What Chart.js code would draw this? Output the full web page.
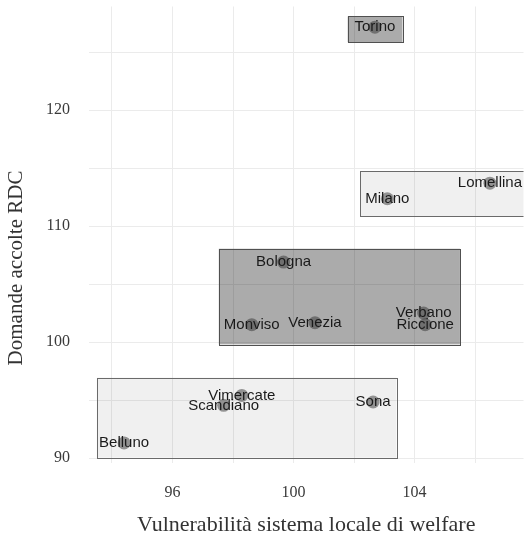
<!DOCTYPE html>
<html>
<head>
<meta charset="utf-8">
<script src="https://cdn.jsdelivr.net/npm/chart.js@4.4.1/dist/chart.umd.min.js"></script>
<style>
  html, body { margin: 0; padding: 0; background: #fff; overflow: hidden; }
  #wrap { width: 530px; height: 540px; }
  canvas { display: block; }
</style>
</head>
<body>
<div id="wrap"><canvas id="myChart"></canvas></div>
<script>
// ambiti territoriali
var names = ["Torino", "Lomellina", "Milano", "Bologna", "Monviso", "Venezia", "Verbano", "Riccione", "Vimercate", "Scandiano", "Belluno", "Sona"];
var vulnerabilita = [102.69, 106.49, 103.1, 99.67, 98.62, 100.71, 104.3, 104.35, 98.29, 97.69, 94.4, 102.63];
var domande = [127.16, 113.7, 112.36, 106.9, 101.5, 101.67, 102.5, 101.5, 95.4, 94.54, 91.3, 94.83];

// riquadri dei gruppi (cluster)
var boxXmin = [101.79, 102.2, 97.53, 93.5];
var boxXmax = [103.6, 108.5, 105.5, 103.4];
var boxYmin = [125.86, 110.86, 99.8, 90.03];
var boxYmax = [128.08, 114.74, 108.05, 96.93];
var boxCluster = ["A", "B", "A", "B"];

// griglia e etichette degli assi
var xGrid = [94, 96, 98, 100, 102, 104, 106];
var xTickLabels = [96, 100, 104];
var yGrid = [90, 95, 100, 105, 110, 115, 120, 125];
var yTickLabels = [90, 100, 110, 120];

var serif = "'Liberation Serif', 'DejaVu Serif', serif";
var sans = "'Liberation Sans', Arial, sans-serif";

var points = names.map(function (n, i) {
    return { x: vulnerabilita[i], y: domande[i] };
});

function noPadding(scale) {
    scale.paddingLeft = 0;
    scale.paddingRight = 0;
    scale.paddingTop = 0;
    scale.paddingBottom = 0;
}

var boxesPlugin = {
    id: "boxes",
    beforeDatasetsDraw: function (chart) {
        var ctx = chart.ctx, a = chart.chartArea;
        var xs = chart.scales.x, ys = chart.scales.y;
        ctx.save();
        ctx.beginPath();
        ctx.rect(a.left, a.top, a.right - a.left, a.bottom - a.top);
        ctx.clip();
        for (var i = 0; i < boxXmin.length; i++) {
            var x0 = xs.getPixelForValue(boxXmin[i]);
            var x1 = xs.getPixelForValue(boxXmax[i]);
            var y0 = ys.getPixelForValue(boxYmax[i]);
            var y1 = ys.getPixelForValue(boxYmin[i]);
            ctx.fillStyle = boxCluster[i] == "A" ? "rgba(0,0,0,0.33)" : "rgba(0,0,0,0.06)";
            ctx.strokeStyle = boxCluster[i] == "A" ? "#505050" : "#6a6a6a";
            ctx.lineWidth = 1;
            ctx.fillRect(x0, y0, x1 - x0, y1 - y0);
            ctx.strokeRect(Math.round(x0) + 0.5, Math.round(y0) + 0.5, Math.round(x1 - x0), Math.round(y1 - y0));
        }
        ctx.restore();
    }
};

var labelsPlugin = {
    id: "pointLabels",
    afterDatasetsDraw: function (chart) {
        var ctx = chart.ctx;
        var meta = chart.getDatasetMeta(0);
        ctx.save();
        ctx.font = "15px " + sans;
        ctx.fillStyle = "#1a1a1a";
        ctx.textAlign = "center";
        ctx.textBaseline = "middle";
        meta.data.forEach(function (el, i) {
            ctx.fillText(names[i], el.x, el.y);
        });
        ctx.restore();
    }
};

var yTitlePlugin = {
    id: "yTitle",
    afterDraw: function (chart) {
        var ctx = chart.ctx;
        ctx.save();
        ctx.translate(16, 268);
        ctx.rotate(-Math.PI / 2);
        ctx.font = "21px " + serif;
        ctx.fillStyle = "#333";
        ctx.textAlign = "center";
        ctx.textBaseline = "middle";
        ctx.fillText("Domande accolte RDC", 0, 0);
        ctx.restore();
    }
};

var ctx = document.getElementById("myChart").getContext("2d");
var myChart = new Chart(ctx, {
    type: "scatter",
    data: {
        datasets: [{
            data: points,
            pointRadius: 6.5,
            pointHoverRadius: 6.5,
            pointBackgroundColor: "rgba(51,51,51,0.5)",
            pointBorderWidth: 0
        }]
    },
    options: {
        responsive: true,
        maintainAspectRatio: false,
        animation: false,
        layout: { padding: { top: 6, right: 0, left: 0, bottom: 0 } },
        plugins: {
            legend: { display: false },
            tooltip: { enabled: false }
        },
        scales: {
            x: {
                type: "linear",
                min: 93.24,
                max: 107.6,
                afterBuildTicks: function (scale) {
                    scale.ticks = xGrid.map(function (v) { return { value: v }; });
                },
                afterFit: function (scale) {
                    scale.height = 77;
                    noPadding(scale);
                },
                grid: { color: "#ebebeb", lineWidth: 1, drawTicks: false },
                border: { display: false },
                ticks: {
                    padding: 20,
                    maxRotation: 0,
                    autoSkip: false,
                    color: "#3a3a3a",
                    font: { family: serif, size: 16 },
                    callback: function (v) { return xTickLabels.indexOf(v) >= 0 ? String(v) : ""; }
                },
                title: {
                    display: true,
                    text: "Vulnerabilità sistema locale di welfare",
                    color: "#333",
                    font: { family: serif, size: 22 },
                    padding: { top: 0, bottom: 2 }
                }
            },
            y: {
                type: "linear",
                min: 89.57,
                max: 128.94,
                afterBuildTicks: function (scale) {
                    scale.ticks = yGrid.map(function (v) { return { value: v }; });
                },
                afterFit: function (scale) {
                    scale.width = 89;
                    noPadding(scale);
                },
                grid: { color: "#ebebeb", lineWidth: 1, drawTicks: false },
                border: { display: false },
                ticks: {
                    padding: 19,
                    autoSkip: false,
                    color: "#3a3a3a",
                    font: { family: serif, size: 16 },
                    callback: function (v) { return yTickLabels.indexOf(v) >= 0 ? String(v) : ""; }
                }
            }
        }
    },
    plugins: [boxesPlugin, labelsPlugin, yTitlePlugin]
});
</script>
</body>
</html>
